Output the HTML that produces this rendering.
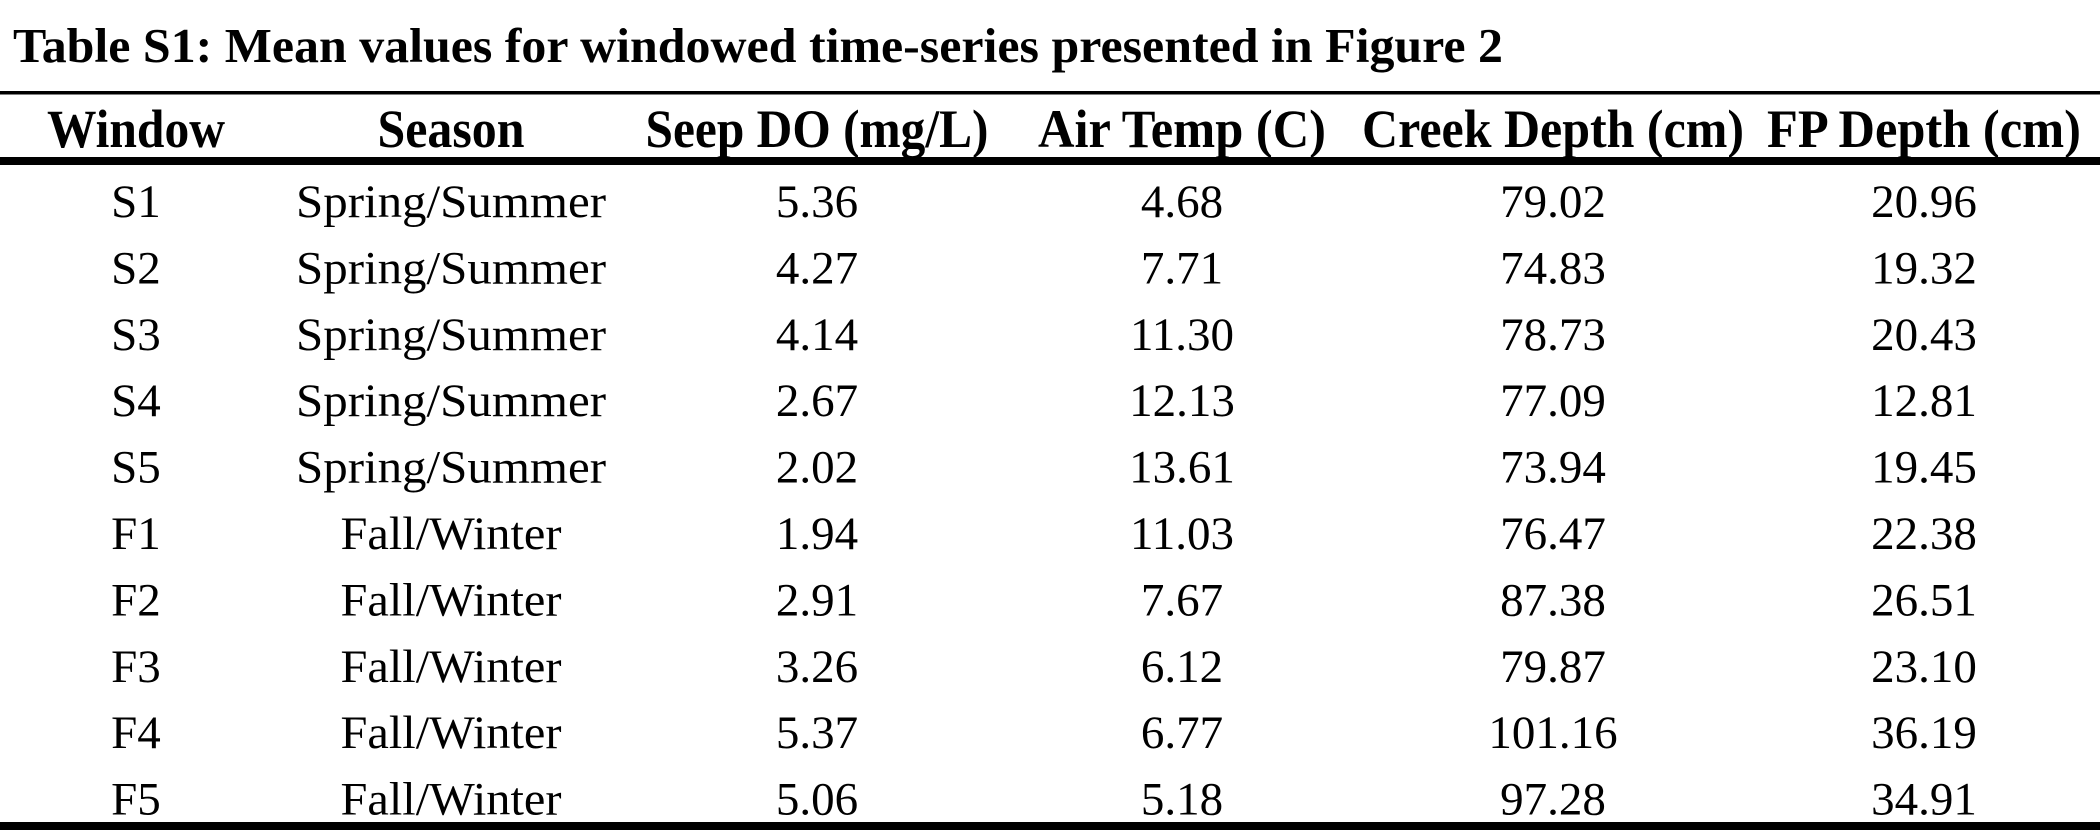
<!DOCTYPE html>
<html><head><meta charset="utf-8"><style>
html,body{margin:0;padding:0;background:#fff;width:2100px;height:833px;overflow:hidden}
svg{display:block}
text{font-family:"Liberation Serif","Times New Roman",serif;fill:#000}
</style></head><body>
<svg id="tbl" width="2100" height="833" viewBox="0 0 2100 833" xmlns="http://www.w3.org/2000/svg">
<text x="13" y="62" font-size="49" font-weight="bold" textLength="1490" lengthAdjust="spacingAndGlyphs">Table S1: Mean values for windowed time-series presented in Figure 2</text>
<rect x="0" y="91" width="2100" height="3.5" fill="#000"/>
<rect x="0" y="157" width="2100" height="8" fill="#000"/>
<rect x="0" y="822" width="2100" height="8" fill="#000"/>
<g id="hdr"></g>
<g id="body"></g>
</svg>
<script>
const headers = ["Window","Season","Seep DO (mg/L)","Air Temp (C)","Creek Depth (cm)","FP Depth (cm)"];
const windows = ["S1","S2","S3","S4","S5","F1","F2","F3","F4","F5"];
const seasons = ["Spring/Summer","Spring/Summer","Spring/Summer","Spring/Summer","Spring/Summer","Fall/Winter","Fall/Winter","Fall/Winter","Fall/Winter","Fall/Winter"];
const seepDO = ["5.36","4.27","4.14","2.67","2.02","1.94","2.91","3.26","5.37","5.06"];
const airTemp = ["4.68","7.71","11.30","12.13","13.61","11.03","7.67","6.12","6.77","5.18"];
const creekDepth = ["79.02","74.83","78.73","77.09","73.94","76.47","87.38","79.87","101.16","97.28"];
const fpDepth = ["20.96","19.32","20.43","12.81","19.45","22.38","26.51","23.10","36.19","34.91"];

const NS = "http://www.w3.org/2000/svg";
const colX = [136, 451, 817, 1182, 1553, 1924];
const hdrW = [178, 147, 343, 288, 382, 314];
const hdr = document.getElementById('hdr');
headers.forEach((h, i) => {
  const t = document.createElementNS(NS, 'text');
  t.setAttribute('x', colX[i]);
  t.setAttribute('y', 147);
  t.setAttribute('text-anchor', 'middle');
  t.setAttribute('font-size', '54');
  t.setAttribute('font-weight', 'bold');
  t.setAttribute('textLength', hdrW[i]);
  t.setAttribute('lengthAdjust', 'spacingAndGlyphs');
  t.textContent = h;
  
  
  hdr.appendChild(t);
});
const body = document.getElementById('body');
const cols = [windows, seasons, seepDO, airTemp, creekDepth, fpDepth];
windows.forEach((w, r) => {
  const y = 217 + r * 66.4;
  const g = document.createElementNS(NS, 'g');
  
  
  cols.forEach((arr, c) => {
    const t = document.createElementNS(NS, 'text');
    t.setAttribute('x', colX[c]);
    t.setAttribute('y', y);
    t.setAttribute('text-anchor', 'middle');
    t.setAttribute('font-size', '47');
    const v = arr[r];
    if (c === 1) {
      t.setAttribute('textLength', v.startsWith('Spring') ? 310 : 221);
      t.setAttribute('lengthAdjust', 'spacingAndGlyphs');
    }
    t.textContent = v;
    
    
    g.appendChild(t);
  });
  body.appendChild(g);
});
</script>
</body></html>
